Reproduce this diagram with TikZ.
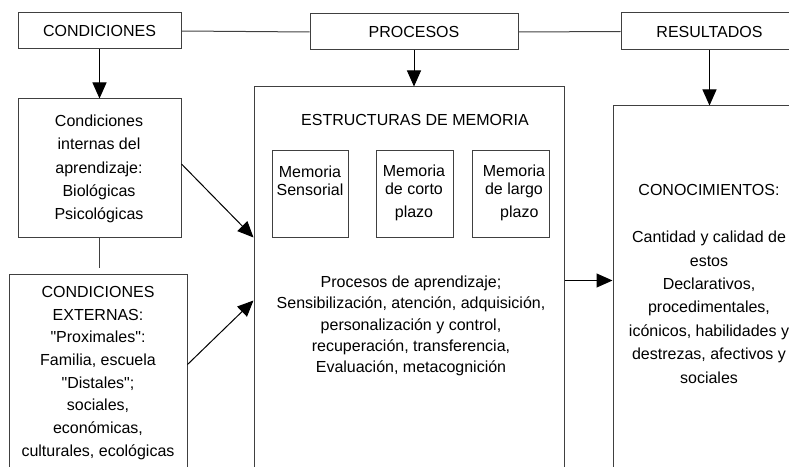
\documentclass[tikz,border=0pt]{standalone}
\usepackage{fontspec}
\setmainfont{Liberation Sans}
\usetikzlibrary{arrows.meta,fit}

\begin{document}
\begin{tikzpicture}[x=0.75pt,y=-0.75pt,
            caja/.style={draw=black!75,line width=0.75pt,inner sep=0pt},
            linea/.style={draw=black!75,line width=0.75pt},
            texto/.style={align=center,font=\fontsize{12}{17.5}\selectfont},
            flecha/.style={-{Triangle[length=12pt,width=10.5pt]},line width=0.75pt}]
        \clip (0,0) rectangle (789,467);
        \node (cond) [caja,fit={(18,13) (181,49)}] {};
        \node (tcond) [texto] at (cond) {CONDICIONES};
        \node (proc) [caja,fit={(310,14) (518,50)}] {};
        \node (tproc) [texto] at (proc) {PROCESOS};
        \node (res) [caja,fit={(621,13) (798,50)}] {};
        \node (tres) [texto] at (res) {RESULTADOS};
        \node (cint) [caja,fit={(18,99) (181,237)}] {};
        \node (tcint) [texto] at (99,169) {Condiciones\\internas del\\aprendizaje:\\Biológicas\\Psicológicas};
        \node (cext) [caja,fit={(9,274) (187,490)}] {};
        \node (tcext) [texto,font=\fontsize{12}{17}\selectfont] at (98,373) {CONDICIONES\\EXTERNAS:\\\textquotedbl Proximales\textquotedbl:\\Familia, escuela\\\textquotedbl Distales\textquotedbl;\\sociales,\\económicas,\\culturales, ecológicas};
        \node (mem) [caja,fit={(254,87) (564,490)}] {};
        \node (tmem) [texto] at (415,120) {ESTRUCTURAS DE MEMORIA};
        \node (ms) [caja,fit={(272,150) (348,237)}] {};
        \node (tms) [texto,font=\fontsize{12}{13.5}\selectfont] at (310,181) {Memoria\\Sensorial};
        \node (mc) [caja,fit={(376,150) (453,237)}] {};
        \node (tmc) [texto,font=\fontsize{12}{13.5}\selectfont] at (414,193) {Memoria\\de corto\\[4pt]plazo};
        \node (ml) [caja,fit={(472,150) (549,237)}] {};
        \node (tml) [texto,font=\fontsize{12}{13.5}\selectfont] at (514,193) {Memoria\\de largo\\[4pt]\hspace*{8pt}plazo};
        \node (tapr) [texto,font=\fontsize{12}{16}\selectfont] at (411,326) {Procesos de aprendizaje;\\Sensibilización, atención, adquisición,\\personalización y control,\\recuperación, transferencia,\\Evaluación, metacognición};
        \node (conoc) [caja,fit={(613,106) (807,490)}] {};
        \node (tconoc) [texto,font=\fontsize{12}{17.6}\selectfont] at (709,284) {CONOCIMIENTOS:\\[17.6pt]Cantidad y calidad de\\estos\\Declarativos,\\procedimentales,\\icónicos, habilidades y\\destrezas, afectivos y\\sociales};
        \draw[linea] (cond.east) -- (proc.west);
        \draw[linea] (proc.east) -- (res.west);
        \draw[flecha] (cond.south) -- (cint.north);
        \draw[flecha] (proc.south) -- (proc.south |- mem.north);
        \draw[flecha] (res.south) -- (res.south |- conoc.north);
        \coordinate (c1) at ([yshift=4.5pt]cext.north);
        \draw[linea] (cint.south) -- (cint.south |- c1);
        \draw[flecha] ([yshift=3pt]cint.east) -- (mem.west |- cint.south);
        \draw[flecha] ([yshift=-68.25pt]cext.north east) -- ([yshift=-160.5pt]mem.north west);
        \draw[flecha] ([yshift=-145.5pt]mem.north east) coordinate (m1) -- (conoc.west |- m1);
    \end{tikzpicture}
\end{document}
